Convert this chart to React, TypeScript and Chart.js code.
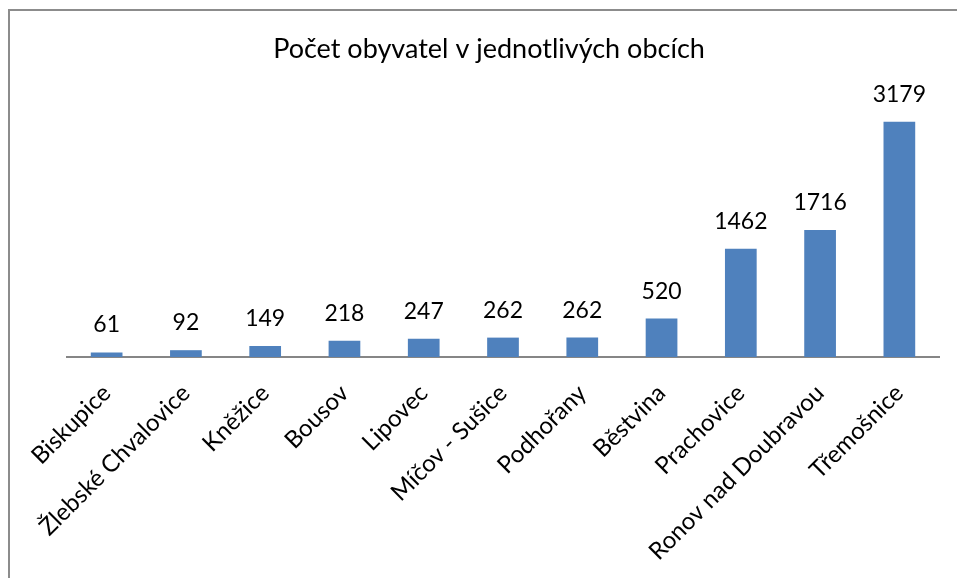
import React, { useEffect, useRef } from "react";
import { Chart, registerables } from "chart.js";

Chart.register(...registerables);

const categories = [
  "Biskupice",
  "Žlebské Chvalovice",
  "Kněžice",
  "Bousov",
  "Lipovec",
  "Míčov - Sušice",
  "Podhořany",
  "Běstvina",
  "Prachovice",
  "Ronov nad Doubravou",
  "Třemošnice",
];
const population = [61, 92, 149, 218, 247, 262, 262, 520, 1462, 1716, 3179];
const chartTitle = "Počet obyvatel v jednotlivých obcích";
const yMax = 3500;

const FONT = "Lato, 'Open Sans', sans-serif";

const valueLabels = {
  id: "valueLabels",
  afterDatasetsDraw(chart: any) {
    const ctx = chart.ctx;
    const meta = chart.getDatasetMeta(0);
    ctx.save();
    ctx.font = `23px ${FONT}`;
    ctx.fillStyle = "#000";
    ctx.textAlign = "center";
    ctx.textBaseline = "alphabetic";
    meta.data.forEach((bar: any, i: number) => {
      const v = chart.data.datasets[0].data[i];
      ctx.fillText(String(v), bar.x, bar.y - 20);
    });
    // chart title
    ctx.font = `27px ${FONT}`;
    ctx.fillText(chartTitle, 489, 58);
    ctx.restore();
  },
};

export default function App() {
  const ref = useRef<HTMLCanvasElement | null>(null);
  useEffect(() => {
    if (!ref.current) return;
    const chart = new Chart(ref.current, {
      type: "bar",
      data: {
        labels: categories,
        datasets: [
          {
            data: population,
            backgroundColor: "#4F81BD",
            borderWidth: 0,
            barPercentage: 0.4,
            categoryPercentage: 1,
          },
        ],
      },
      options: {
        animation: false,
        responsive: false,
        maintainAspectRatio: false,
        layout: { padding: { left: 67, right: 18, top: 98, bottom: 0 } },
        plugins: {
          legend: { display: false },
          tooltip: { enabled: false },
          title: { display: false },
        },
        scales: {
          x: {
            grid: { display: false, drawTicks: false },
            border: { display: true, color: "#868686", width: 2 },
            ticks: {
              color: "#000",
              font: { family: FONT, size: 24 },
              minRotation: 45,
              maxRotation: 45,
              autoSkip: false,
              padding: 22,
            },
            afterFit(scale: any) {
              scale.height = 221;
            },
          },
          y: {
            display: false,
            min: 0,
            max: yMax,
          },
        },
      },
      plugins: [valueLabels],
    });
    return () => chart.destroy();
  }, []);
  return (
    <div style={{ position: "fixed", left: 0, top: 0, width: 957, height: 578, background: "#fff", overflow: "hidden" }}>
      <div
        style={{
          position: "absolute",
          left: 8,
          top: 9,
          width: 1000,
          height: 1000,
          border: "2px solid #8c8c8c",
          boxSizing: "border-box",
        }}
      />
      <canvas ref={ref} width={957} height={578} style={{ position: "absolute", left: 0, top: 0 }} />
    </div>
  );
}
